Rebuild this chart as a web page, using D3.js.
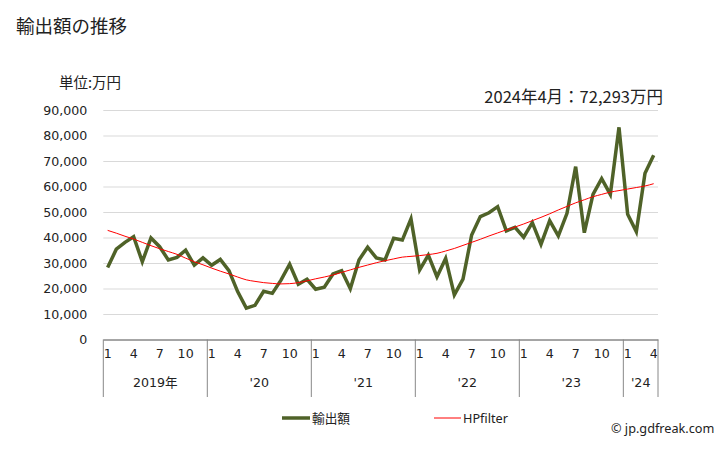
<!DOCTYPE html>
<html><head><meta charset="utf-8">
<script src="https://cdn.jsdelivr.net/npm/d3@7/dist/d3.min.js"></script>
<style>
html,body{margin:0;padding:0;background:#fff;}
svg{display:block;}
.jp{font-family:"Noto Sans CJK JP","Noto Sans",sans-serif;}
.num{font-family:"DejaVu Sans",Verdana,sans-serif;}
</style></head>
<body>
<svg id="chart" width="728" height="450"></svg>
<script>
// ---- data ----
const title = "輸出額の推移";
const unitLabel = "単位:万円";
const latestLabel = "2024年4月：72,293万円";
const seriesNames = ["輸出額", "HPfilter"];
const months = d3.range(64).map(i => (i % 12) + 1); // 2019-01 .. 2024-04
const yearLabels = ["2019年", "'20", "'21", "'22", "'23", "'24"];
const yearCounts = [12, 12, 12, 12, 12, 4];
const monthTickLabels = [1, 4, 7, 10];
const yTicks = [0, 10000, 20000, 30000, 40000, 50000, 60000, 70000, 80000, 90000];
const exportValues = [
  28200, 35400, 38100, 40300, 30500, 39800, 36400, 31200, 32200, 35000, 29200, 32000,
  29100, 31400, 27000, 18800, 12300, 13400, 18900, 18100, 23300, 29500, 21700, 23600,
  19700, 20500, 25700, 27000, 19900, 31200, 36200, 32000, 31200, 39700, 39000, 47300,
  27300, 33100, 24600, 31800, 17500, 23700, 41000, 48200, 49700, 52100, 42600, 44000,
  40100, 45800, 37300, 46600, 40600, 49500, 67800, 41900, 56900, 63100, 56900, 83200,
  49100, 42300, 65200, 72293
];
const hpValues = [
  42800, 41700, 40500, 39400, 38100, 36800, 35600, 34500, 33400, 31900, 30500, 29300,
  28000, 26800, 25700, 24500, 23400, 22800, 22300, 22000, 21800, 21900, 22300, 23000,
  23800, 24500, 25300, 26300, 27300, 28300, 29200, 30100, 30900, 31600, 32300, 32600,
  32900, 33300, 33800, 34700, 35700, 36900, 38100, 39300, 40600, 41800, 43000, 44100,
  45300, 46600, 47900, 49300, 50800, 52200, 53600, 54800, 56000, 56900, 57800, 58400,
  59000, 59600, 60200, 61100
];

// ---- layout ----
const L = 103.3, R = 658, T = 110, B = 339.5;
const svg = d3.select("#chart");

const x = d3.scaleBand().domain(d3.range(months.length)).range([L, R]).padding(0);
const y = d3.scaleLinear().domain([0, 90000]).range([B, T]);
const cx = i => x(i) + x.bandwidth() / 2;

// title texts
svg.append("text").attr("class", "jp").attr("x", 16).attr("y", 33)
  .attr("font-size", 18.5).attr("fill", "#222").text(title);
svg.append("text").attr("class", "jp").attr("x", 59).attr("y", 88)
  .attr("font-size", 14.5).attr("fill", "#222").text(unitLabel);
svg.append("text").attr("class", "jp").attr("x", 663).attr("y", 103)
  .attr("text-anchor", "end").attr("font-size", 16.5).attr("fill", "#222").text(latestLabel);

// y axis with gridlines
const yAxis = d3.axisLeft(y).tickValues(yTicks).tickSize(-(R - L)).tickPadding(16)
  .tickFormat(d3.format(","));
const gy = svg.append("g").attr("transform", `translate(${L},0)`).call(yAxis);
gy.select(".domain").remove();
gy.selectAll(".tick line").attr("stroke", "#d9d9d9").attr("stroke-width", 1);
gy.selectAll(".tick").filter(d => d === 0).select("line").attr("stroke", "#888");
gy.selectAll(".tick text").attr("class", "num").attr("font-size", 12.6).attr("fill", "#222")
  .attr("font-family", "'DejaVu Sans',Verdana,sans-serif");

// x axis: month labels
const xAxis = d3.axisBottom(x)
  .tickValues(d3.range(months.length).filter(i => monthTickLabels.includes(months[i])))
  .tickFormat(i => months[i]).tickSize(0).tickPadding(10);
const gx = svg.append("g").attr("transform", `translate(0,${B})`).call(xAxis);
gx.select(".domain").attr("stroke", "#888");
gx.selectAll(".tick text").attr("font-size", 12.6).attr("fill", "#222")
  .attr("font-family", "'DejaVu Sans',Verdana,sans-serif");

// year separators and labels
let start = 0;
const bounds = [0];
yearCounts.forEach(c => { start += c; bounds.push(start); });
svg.append("g").selectAll("line").data(bounds).join("line")
  .attr("x1", b => b < months.length ? x(b) : R)
  .attr("x2", b => b < months.length ? x(b) : R)
  .attr("y1", B).attr("y2", 397)
  .attr("stroke", "#888").attr("stroke-width", 1);
svg.append("g").selectAll("text").data(yearLabels).join("text")
  .attr("x", (d, k) => {
    const a = x(bounds[k]);
    const b = bounds[k + 1] < months.length ? x(bounds[k + 1]) : R;
    return (a + b) / 2;
  })
  .attr("y", 387).attr("text-anchor", "middle").attr("font-size", 12.6).attr("fill", "#222")
  .attr("font-family", "'DejaVu Sans',Verdana,'Noto Sans CJK JP',sans-serif")
  .text(d => d);

// lines
const line = d3.line().x((d, i) => cx(i)).y(d => y(d));
svg.append("path").datum(exportValues).attr("d", line)
  .attr("fill", "none").attr("stroke", "#4f6228").attr("stroke-width", 3.5)
  .attr("stroke-linejoin", "miter");
svg.append("path").datum(hpValues).attr("d", line.curve(d3.curveMonotoneX))
  .attr("fill", "none").attr("stroke", "#ff0000").attr("stroke-width", 1);

// legend
const lg = svg.append("g");
lg.append("line").attr("x1", 282).attr("x2", 310).attr("y1", 418).attr("y2", 418)
  .attr("stroke", "#4f6228").attr("stroke-width", 3.5);
lg.append("text").attr("class", "jp").attr("x", 312).attr("y", 422.5)
  .attr("font-size", 12.7).attr("fill", "#222").text(seriesNames[0]);
lg.append("line").attr("x1", 434).attr("x2", 461).attr("y1", 418).attr("y2", 418)
  .attr("stroke", "#ff0000").attr("stroke-width", 1);
lg.append("text").attr("x", 463).attr("y", 422.5).attr("font-family", "'Noto Sans',sans-serif")
  .attr("font-size", 12.7).attr("fill", "#222").text(seriesNames[1]);
svg.append("text").attr("x", 611).attr("y", 433).attr("font-family", "'Noto Sans',sans-serif")
  .attr("font-size", 12.7).attr("fill", "#222").text("© jp.gdfreak.com");
</script>
</body></html>
